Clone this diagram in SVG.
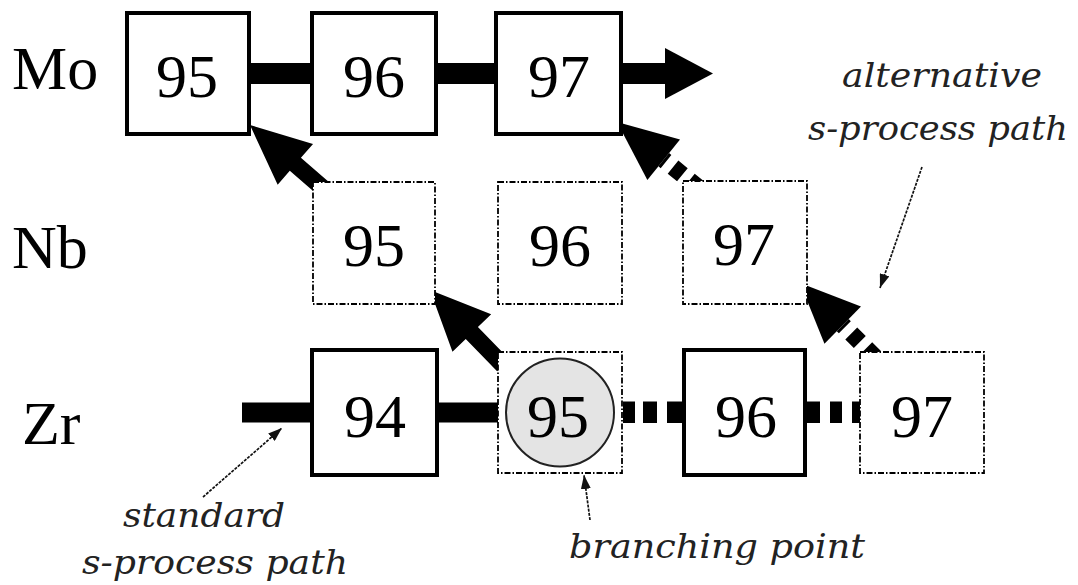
<svg xmlns="http://www.w3.org/2000/svg" width="1078" height="585" viewBox="0 0 1078 585">
<style>
.solid{fill:#fff;stroke:#000;stroke-width:4}
.dash{fill:#fff;stroke:#000;stroke-width:1.8;stroke-dasharray:6 2 1.5 2}
.num{font-size:62px;fill:#000;text-anchor:middle}
.el{font-size:62px;fill:#000}
.ann{font-style:italic;font-size:34px;fill:#222}
.lead{stroke:#111;stroke-width:1.7;stroke-dasharray:3 1.2;fill:none}
.bar{fill:#000}
</style>
<defs>
<marker id="tip" viewBox="0 0 14 10" refX="14" refY="5" markerWidth="14" markerHeight="10" markerUnits="userSpaceOnUse" orient="auto">
<path d="M0,0 L14,5 L0,10 Z" fill="#111"/>
</marker>
<path id="thick" d="M0,0 L-60,-27 L-60,-8.5 L-105,-8.5 L-105,8.5 L-60,8.5 L-60,27 Z" fill="#000"/>
<g id="dotted">
<path d="M0,0 L-60,-26 L-60,26 Z" fill="#000"/>
<line x1="-105" y1="0" x2="-60" y2="0" stroke="#000" stroke-width="17" stroke-dasharray="12 9"/>
</g>
</defs>
<rect width="1078" height="585" fill="#fff"/>

<g id="labels" font-family="Liberation Serif, Times New Roman, Tinos, serif">
<text class="el" x="12" y="89">Mo</text>
<text class="el" x="12" y="268">Nb</text>
<text class="el" x="22" y="444">Zr</text>
</g>

<g id="connectors">
<rect class="bar" x="251" y="63" width="59" height="21"/>
<rect class="bar" x="438" y="63" width="56" height="21"/>
<rect class="bar" x="623" y="63" width="43" height="21"/>
<path class="bar" d="M665,48 L713,73.5 L665,99 Z"/>
<rect class="bar" x="242" y="402.5" width="68" height="20"/>
<rect class="bar" x="439" y="402.5" width="59" height="20"/>
<rect class="bar" x="623" y="401.5" width="12" height="21.5"/>
<rect class="bar" x="643" y="401.5" width="14" height="21.5"/>
<rect class="bar" x="667" y="401.5" width="15" height="21.5"/>
<rect class="bar" x="807" y="401.5" width="13" height="21.5"/>
<rect class="bar" x="830" y="401.5" width="12" height="21.5"/>
<rect class="bar" x="852" y="401.5" width="8" height="21.5"/>
<use href="#thick" transform="translate(250,125) rotate(220.9)"/>
<use href="#thick" transform="translate(430,290) rotate(225.8)"/>
<use href="#dotted" transform="translate(617,122) rotate(218.9)"/>
<use href="#dotted" transform="translate(800,283) rotate(224.6)"/>
<line class="lead" x1="203" y1="497" x2="282" y2="428" marker-end="url(#tip)"/>
<line class="lead" x1="590" y1="520" x2="584" y2="475" marker-end="url(#tip)"/>
<line class="lead" x1="922" y1="167" x2="880" y2="288" marker-end="url(#tip)"/>
</g>

<g id="nodes" font-family="Liberation Serif, Times New Roman, Tinos, serif">
<g id="mo95"><rect class="solid" x="127" y="13" width="122" height="121"/><text class="num" x="187" y="97">95</text></g>
<g id="mo96"><rect class="solid" x="312" y="13" width="124" height="121"/><text class="num" x="374" y="97">96</text></g>
<g id="mo97"><rect class="solid" x="496" y="13" width="125" height="121"/><text class="num" x="559" y="97">97</text></g>

<g id="nb95"><rect class="dash" x="313" y="182" width="122" height="122"/><text class="num" x="374" y="266">95</text></g>
<g id="nb96"><rect class="dash" x="498" y="182" width="124" height="122"/><text class="num" x="560" y="266">96</text></g>
<g id="nb97"><rect class="dash" x="683" y="181" width="124" height="123"/><text class="num" x="744" y="265">97</text></g>

<g id="zr94"><rect class="solid" x="312" y="350" width="125" height="125"/><text class="num" x="375" y="437">94</text></g>
<g id="zr95"><rect class="dash" x="498" y="352" width="124" height="121"/><circle cx="560" cy="412.5" r="54" fill="#e4e4e4" stroke="#222" stroke-width="2"/><text class="num" x="558" y="437">95</text></g>
<g id="zr96"><rect class="solid" x="684" y="350" width="121" height="125"/><text class="num" x="746" y="437">96</text></g>
<g id="zr97"><rect class="dash" x="860" y="352" width="124" height="121"/><text class="num" x="922" y="437">97</text></g>
</g>

<g id="annotations" font-family="DejaVu Serif, serif">
<text class="ann" x="842" y="87" textLength="200" lengthAdjust="spacingAndGlyphs">alternative</text>
<text class="ann" x="808" y="140" textLength="260" lengthAdjust="spacingAndGlyphs">s-process path</text>
<text class="ann" x="123" y="527" textLength="162" lengthAdjust="spacingAndGlyphs">standard</text>
<text class="ann" x="82" y="574" textLength="266" lengthAdjust="spacingAndGlyphs">s-process path</text>
<text class="ann" x="569" y="558" textLength="296" lengthAdjust="spacingAndGlyphs">branching point</text>
</g>
</svg>
